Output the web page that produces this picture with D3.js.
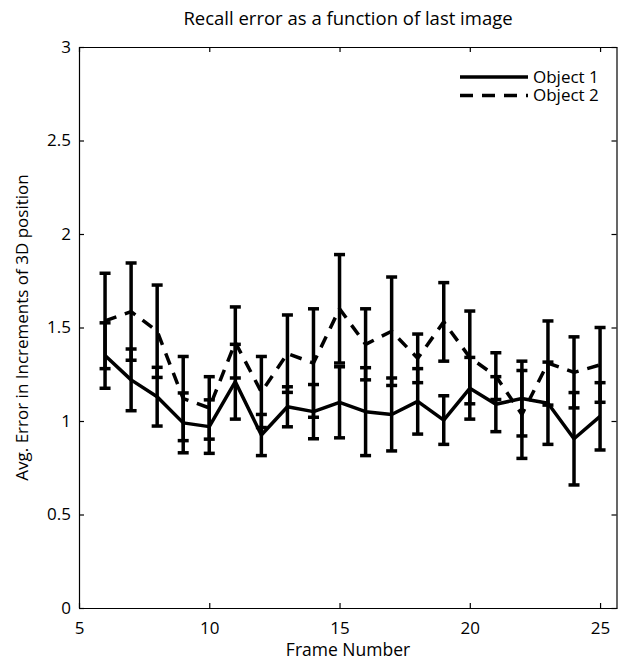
<!DOCTYPE html>
<html>
<head>
<meta charset="utf-8">
<script src="https://cdn.jsdelivr.net/npm/d3@7"></script>
<style>
  body { margin: 0; background: #fff; }
  text { font-family: "Open Sans", sans-serif; fill: #000; }
</style>
</head>
<body>
<script>
//DATA
var frames = [6, 7, 8, 9, 10, 11, 12, 13, 14, 15, 16, 17, 18, 19, 20, 21, 22, 23, 24, 25];
var obj1Mean = [1.35, 1.22, 1.13, 0.99, 0.97, 1.21, 0.925, 1.076, 1.05, 1.10, 1.05, 1.035, 1.105, 1.005, 1.175, 1.09, 1.12, 1.095, 0.905, 1.025];
var obj1Err  = [0.175, 0.165, 0.157, 0.16, 0.143, 0.2, 0.11, 0.107, 0.145, 0.19, 0.235, 0.195, 0.175, 0.13, 0.165, 0.147, 0.2, 0.22, 0.247, 0.18];
var obj2Mean = [1.535, 1.585, 1.48, 1.12, 1.07, 1.42, 1.155, 1.36, 1.31, 1.60, 1.41, 1.48, 1.335, 1.53, 1.34, 1.24, 1.035, 1.31, 1.26, 1.30];
var obj2Err  = [0.255, 0.26, 0.247, 0.225, 0.167, 0.19, 0.19, 0.207, 0.29, 0.29, 0.19, 0.29, 0.13, 0.21, 0.248, 0.125, 0.235, 0.225, 0.19, 0.2];
var seriesNames = ["Object 1", "Object 2"];
var xTicks = [5, 10, 15, 20, 25];
var yTicks = [0, 0.5, 1, 1.5, 2, 2.5, 3];

//GENERAL VARIABLES
var width = 618,
    height = 661,
    margin = {top: 47, right: 1, bottom: 53, left: 79},
    capHalf = 5.5,
    lineW = 3.5;

var x = d3.scaleLinear().domain([5, 25.65]).range([margin.left, width - margin.right]);
var y = d3.scaleLinear().domain([0, 3]).range([height - margin.bottom, margin.top]);

var svg = d3.select("body").append("svg")
    .attr("width", width)
    .attr("height", height);

// axes: ticks point inward, box on all four sides
svg.append("g")
    .attr("transform", "translate(0," + y(0) + ")")
    .call(d3.axisBottom(x).tickValues(xTicks).tickSizeInner(-5).tickSizeOuter(0).tickPadding(14).tickFormat(d3.format("d")))
    .call(styleAxis);
svg.append("g")
    .attr("transform", "translate(0," + y(3) + ")")
    .call(d3.axisTop(x).tickValues(xTicks).tickSizeInner(-5).tickSizeOuter(0).tickFormat(""))
    .call(styleAxis);
svg.append("g")
    .attr("transform", "translate(" + x(5) + ",0)")
    .call(d3.axisLeft(y).tickValues(yTicks).tickSizeInner(-5).tickSizeOuter(0).tickPadding(8).tickFormat(d3.format("")))
    .call(styleAxis);
svg.append("g")
    .attr("transform", "translate(" + (width - margin.right - 0.5) + ",0)")
    .call(d3.axisRight(y).tickValues(yTicks).tickSizeInner(-5).tickSizeOuter(0).tickFormat(""))
    .call(styleAxis);

function styleAxis(g) {
    g.select(".domain").attr("stroke", "#000").attr("stroke-width", 1.2);
    g.selectAll(".tick line").attr("stroke", "#000").attr("stroke-width", 1.2);
    g.selectAll(".tick text").style("font-size", "17px").attr("fill", "#000");
}

// one group per series: error bars then the mean line
var series = [
    {name: seriesNames[1], mean: obj2Mean, err: obj2Err, dash: "12,9"},
    {name: seriesNames[0], mean: obj1Mean, err: obj1Err, dash: null}
];

var line = d3.line()
    .x(function(d) { return x(d.f); })
    .y(function(d) { return y(d.m); });

series.forEach(function(s) {
    var pts = frames.map(function(f, i) { return {f: f, m: s.mean[i], e: s.err[i]}; });
    var g = svg.append("g");

    var bars = g.selectAll(".bar")
        .data(pts)
        .enter().append("g")
        .attr("class", "bar")
        .attr("stroke", "#000")
        .attr("stroke-width", lineW);
    bars.append("line")
        .attr("x1", function(d) { return x(d.f); })
        .attr("x2", function(d) { return x(d.f); })
        .attr("y1", function(d) { return y(d.m - d.e); })
        .attr("y2", function(d) { return y(d.m + d.e); });
    bars.append("line")
        .attr("x1", function(d) { return x(d.f) - capHalf; })
        .attr("x2", function(d) { return x(d.f) + capHalf; })
        .attr("y1", function(d) { return y(d.m - d.e); })
        .attr("y2", function(d) { return y(d.m - d.e); });
    bars.append("line")
        .attr("x1", function(d) { return x(d.f) - capHalf; })
        .attr("x2", function(d) { return x(d.f) + capHalf; })
        .attr("y1", function(d) { return y(d.m + d.e); })
        .attr("y2", function(d) { return y(d.m + d.e); });

    g.append("path")
        .datum(pts)
        .attr("fill", "none")
        .attr("stroke", "#000")
        .attr("stroke-width", lineW)
        .attr("stroke-linejoin", "round")
        .attr("stroke-dasharray", s.dash)
        .attr("d", line);
});

// legend (top right, no box)
var legend = svg.append("g");
[{name: seriesNames[0], dash: null}, {name: seriesNames[1], dash: "13,9"}].forEach(function(d, i) {
    var ly = 77 + i * 18.5;
    legend.append("line")
        .attr("x1", 460).attr("x2", 528)
        .attr("y1", ly).attr("y2", ly)
        .attr("stroke", "#000")
        .attr("stroke-width", lineW)
        .attr("stroke-dasharray", d.dash);
    legend.append("text")
        .attr("x", 533).attr("y", ly)
        .attr("dy", "0.35em")
        .style("font-size", "17px")
        .text(d.name);
});

// titles
svg.append("text")
    .attr("x", (x.range()[0] + x.range()[1]) / 2)
    .attr("y", 25)
    .attr("text-anchor", "middle")
    .style("font-size", "18.5px")
    .text("Recall error as a function of last image");

svg.append("text")
    .attr("x", (x.range()[0] + x.range()[1]) / 2)
    .attr("y", 656)
    .attr("text-anchor", "middle")
    .style("font-size", "17.5px")
    .text("Frame Number");

svg.append("text")
    .attr("transform", "translate(28," + y(1.5) + ") rotate(-90)")
    .attr("text-anchor", "middle")
    .style("font-size", "17px")
    .text("Avg. Error in Increments of 3D position");
</script>
</body>
</html>
